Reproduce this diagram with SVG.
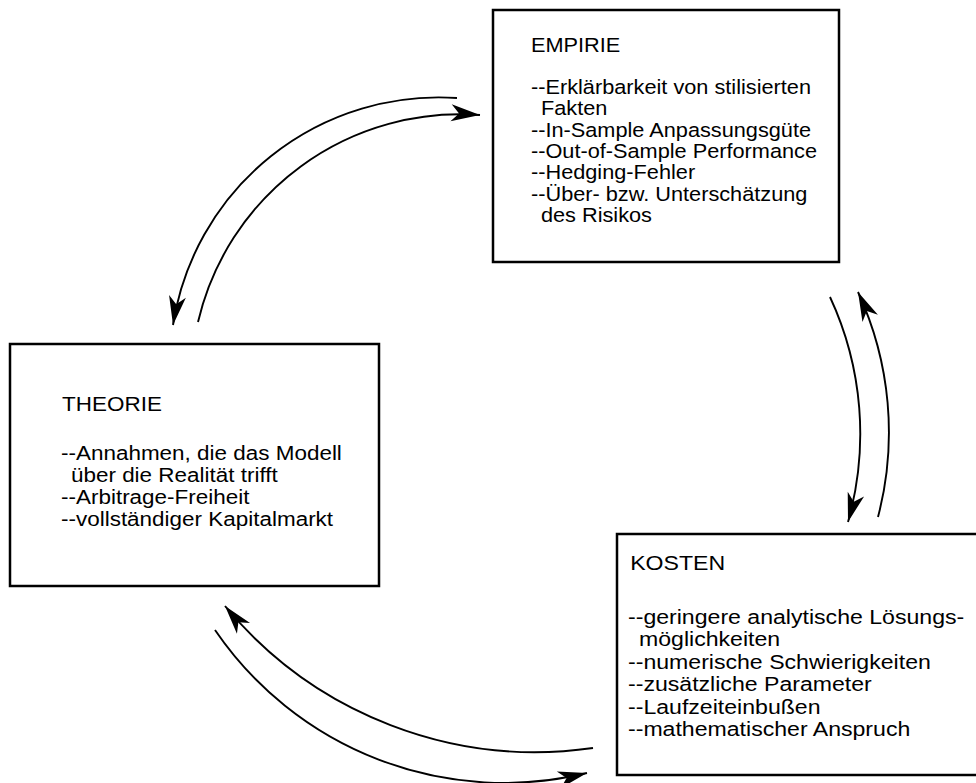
<svg xmlns="http://www.w3.org/2000/svg" width="976" height="783" viewBox="0 0 976 783">
<style>
.box{fill:#fff;stroke:#000;stroke-width:2.5}
.t{font-family:"Liberation Sans",Arial,Helvetica,sans-serif;font-size:20.5px;fill:#000}
.t21{font-size:21px}
.c{fill:none;stroke:#000;stroke-width:1.9;marker-end:url(#ah)}
</style>
<defs>
<marker id="ah" markerUnits="userSpaceOnUse" markerWidth="40" markerHeight="40" refX="0" refY="0" orient="auto" overflow="visible">
<path d="M0,0 L-29,-8.5 L-21,0 L-29,8.5 Z" fill="#000"/>
</marker>
</defs>
<rect width="976" height="783" fill="#fff"/>
<g id="empirie">
<rect class="box" x="493" y="10" width="346" height="252"/>
<g transform="translate(531,0) scale(1.06,1)">
<text class="t" x="0" y="52">EMPIRIE</text>
<text class="t" x="0" y="94">--Erklärbarkeit von stilisierten</text>
<text class="t" x="9.4" y="115.3">Fakten</text>
<text class="t" x="0" y="136.6">--In-Sample Anpassungsgüte</text>
<text class="t" x="0" y="158">--Out-of-Sample Performance</text>
<text class="t" x="0" y="179.3">--Hedging-Fehler</text>
<text class="t" x="0" y="200.6">--Über- bzw. Unterschätzung</text>
<text class="t" x="9.4" y="222">des Risikos</text>
</g>
</g>
<g id="theorie">
<rect class="box" x="10" y="344" width="369" height="242"/>
<g transform="translate(61,0) scale(1.07,1)">
<text class="t t21" x="1" y="411">THEORIE</text>
<text class="t t21" x="0" y="460">--Annahmen, die das Modell</text>
<text class="t t21" x="9.3" y="482">über die Realität trifft</text>
<text class="t t21" x="0" y="504">--Arbitrage-Freiheit</text>
<text class="t t21" x="0" y="526">--vollständiger Kapitalmarkt</text>
</g>
</g>
<g id="kosten">
<rect class="box" x="617" y="534" width="372" height="241"/>
<g transform="translate(628,0) scale(1.1,1)">
<text class="t t21" x="2" y="570">KOSTEN</text>
<text class="t t21" x="0" y="624">--geringere analytische Lösungs-</text>
<text class="t t21" x="10" y="646.5">möglichkeiten</text>
<text class="t t21" x="0" y="669">--numerische Schwierigkeiten</text>
<text class="t t21" x="0" y="691.5">--zusätzliche Parameter</text>
<text class="t t21" x="0" y="714">--Laufzeiteinbußen</text>
<text class="t t21" x="0" y="736.5">--mathematischer Anspruch</text>
</g>
</g>
<g id="connectors">
<path class="c" d="M457,98 A269,269 0 0 0 173,325"/>
<path class="c" d="M198,322 A269,269 0 0 1 480,115"/>
<path class="c" d="M830,297 A324,324 0 0 1 848,522"/>
<path class="c" d="M878,517 A334,334 0 0 0 858,292"/>
<path class="c" d="M593,748 A403,403 0 0 1 225,606"/>
<path class="c" d="M215,630 A350,350 0 0 0 587,773"/>
</g>
</svg>
